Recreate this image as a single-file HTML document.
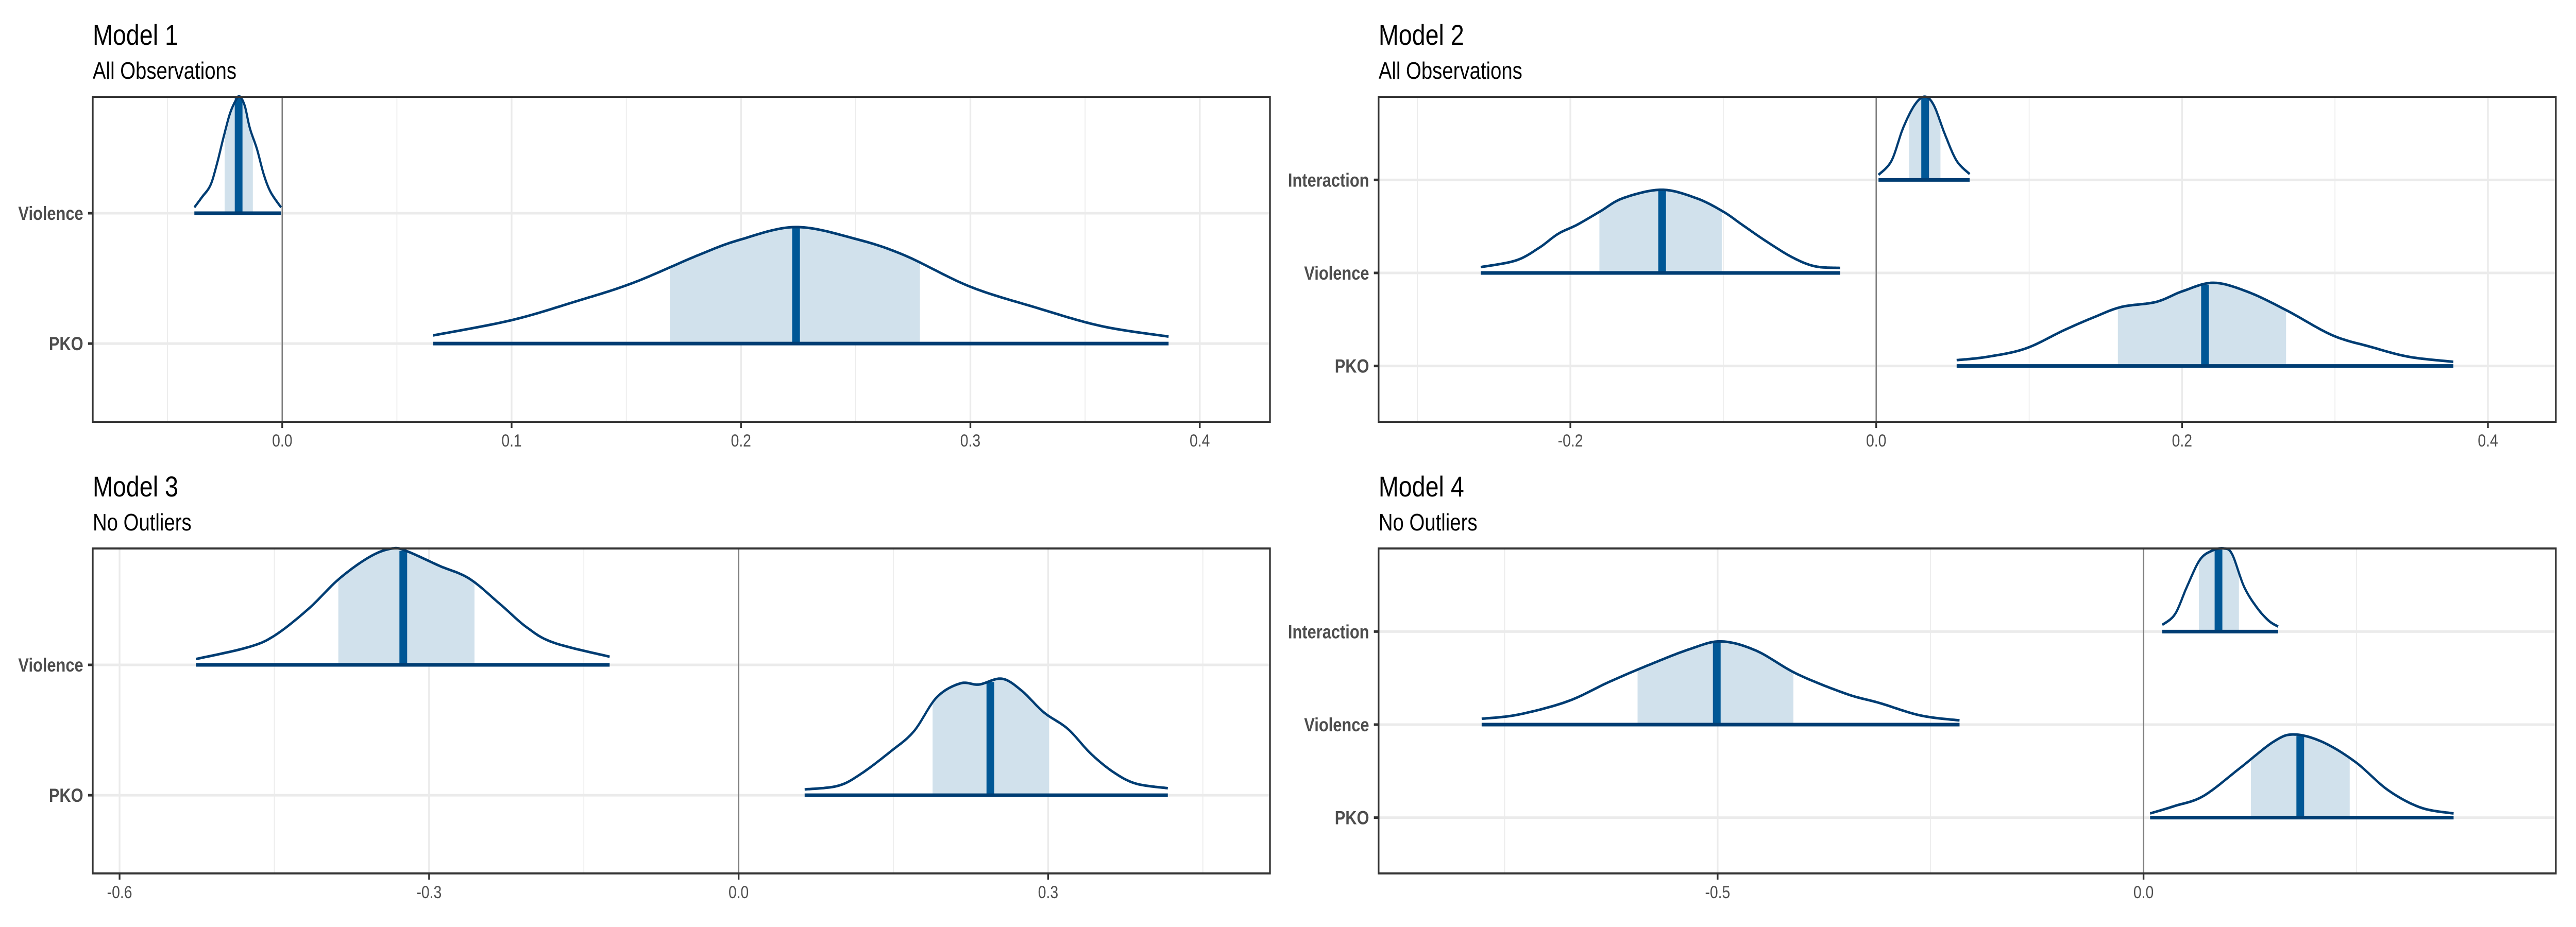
<!DOCTYPE html>
<html><head><meta charset="utf-8">
<style>
html,body{margin:0;padding:0;background:#fff;width:100%;height:100%;overflow:hidden;}
svg{display:block;width:100vw;height:100vh;}
text{font-family:"Liberation Sans",Arial,sans-serif;}
</style></head>
<body>
<svg id="chart" xmlns="http://www.w3.org/2000/svg" viewBox="0 0 6000 1800" preserveAspectRatio="none">
<rect width="6000" height="1800" fill="#fff"/>
</svg>
<script>
// ---------- Model 1 data ----------
const m1Terms = ["Violence", "PKO"];
const m1ViolenceX = [-0.0383,-0.0349,-0.0313,-0.0285,-0.0256,-0.0227,-0.0199,-0.0184,-0.0163,-0.0141,-0.011,-0.008,-0.005,-0.0005];
const m1ViolenceH = [0.05,0.14,0.24,0.42,0.65,0.86,0.98,1.0,0.92,0.73,0.55,0.33,0.18,0.05];
const m1ViolenceStats = [-0.0251,-0.019,-0.0128];
const m1PkoX = [0.0658,0.0998,0.1277,0.1528,0.1815,0.1994,0.2238,0.2496,0.271,0.2997,0.3284,0.3571,0.3864];
const m1PkoH = [0.07,0.2,0.36,0.52,0.76,0.89,1.0,0.9,0.76,0.49,0.31,0.15,0.06];
const m1PkoStats = [0.169,0.224,0.278];
const m1Ticks = ["0.0","0.1","0.2","0.3","0.4"];
const m1TickVals = [0,0.1,0.2,0.3,0.4];

// ---------- Model 2 data ----------
const m2Terms = ["Interaction", "Violence", "PKO"];
const m2InterX = [0.0015,0.0100,0.0175,0.0251,0.0316,0.0376,0.0451,0.0526,0.0611];
const m2InterH = [0.06,0.23,0.62,0.9,1.0,0.9,0.54,0.23,0.07];
const m2InterStats = [0.0215,0.032,0.042];
const m2ViolenceX = [-0.2586,-0.2356,-0.2206,-0.2080,-0.1955,-0.1805,-0.1654,-0.1404,-0.1178,-0.1003,-0.0877,-0.0727,-0.0551,-0.0401,-0.0236];
const m2ViolenceH = [0.07,0.15,0.3,0.47,0.58,0.74,0.9,1.0,0.9,0.74,0.58,0.39,0.19,0.08,0.06];
const m2ViolenceStats = [-0.181,-0.140,-0.101];
const m2PkoX = [0.0526,0.0727,0.0977,0.1228,0.1429,0.1604,0.1830,0.2005,0.2206,0.2431,0.2682,0.2982,0.3233,0.3484,0.3774];
const m2PkoH = [0.07,0.11,0.21,0.43,0.59,0.71,0.77,0.9,1.0,0.89,0.67,0.37,0.23,0.11,0.05];
const m2PkoStats = [0.158,0.215,0.268];
const m2Ticks = ["-0.2","0.0","0.2","0.4"];
const m2TickVals = [-0.2,0,0.2,0.4];

// ---------- Model 3 data ----------
const m3Terms = ["Violence", "PKO"];
const m3ViolenceX = [-0.526,-0.476,-0.450,-0.417,-0.387,-0.357,-0.335,-0.320,-0.290,-0.261,-0.231,-0.205,-0.179,-0.125];
const m3ViolenceH = [0.05,0.15,0.25,0.48,0.74,0.93,1.0,0.97,0.85,0.74,0.52,0.32,0.19,0.07];
const m3ViolenceStats = [-0.388,-0.325,-0.256];
const m3PkoX = [0.064,0.096,0.118,0.148,0.170,0.192,0.215,0.233,0.255,0.274,0.296,0.319,0.341,0.363,0.385,0.416];
const m3PkoH = [0.05,0.08,0.18,0.38,0.55,0.84,0.96,0.95,1.0,0.90,0.71,0.57,0.36,0.2,0.10,0.06];
const m3PkoStats = [0.188,0.244,0.301];
const m3Ticks = ["-0.6","-0.3","0.0","0.3"];
const m3TickVals = [-0.6,-0.3,0,0.3];

// ---------- Model 4 data ----------
const m4Terms = ["Interaction", "Violence", "PKO"];
const m4InterX = [0.022,0.037,0.051,0.066,0.080,0.094,0.104,0.118,0.133,0.147,0.158];
const m4InterH = [0.08,0.21,0.54,0.86,0.97,1.0,0.93,0.54,0.29,0.13,0.06];
const m4InterStats = [0.065,0.088,0.112];
const m4ViolenceX = [-0.777,-0.734,-0.676,-0.628,-0.580,-0.532,-0.496,-0.455,-0.407,-0.349,-0.310,-0.262,-0.216];
const m4ViolenceH = [0.07,0.12,0.28,0.51,0.72,0.91,1.0,0.89,0.61,0.37,0.26,0.11,0.05];
const m4ViolenceStats = [-0.594,-0.501,-0.411];
const m4PkoX = [0.0077,0.0366,0.0703,0.1137,0.1522,0.1763,0.2100,0.2486,0.2871,0.3256,0.364];
const m4PkoH = [0.05,0.14,0.26,0.6,0.91,1.0,0.91,0.67,0.33,0.12,0.05];
const m4PkoStats = [0.126,0.184,0.242];
const m4Ticks = ["-0.5","0.0"];
const m4TickVals = [-0.5,0];

// ---------- layout (positions, not data) ----------
const NS = "http://www.w3.org/2000/svg";
const svg = document.getElementById("chart");
function mk(tag, attrs, parent){
  const e = document.createElementNS(NS, tag);
  for (const k in attrs) e.setAttribute(k, attrs[k]);
  (parent||svg).appendChild(e);
  return e;
}

const panels = [
  {id:"model-1", title:"Model 1", sub:"All Observations", x0:216, x1:2958, y0:188, y1:819, dom:[-0.0826,0.4306],
   terms:m1Terms, ridges:[[m1ViolenceX,m1ViolenceH,m1ViolenceStats],[m1PkoX,m1PkoH,m1PkoStats]],
   ticks:m1Ticks, tickVals:m1TickVals, minor:[-0.05,0.05,0.15,0.25,0.35]},
  {id:"model-2", title:"Model 2", sub:"All Observations", x0:3211, x1:5953, y0:188, y1:819, dom:[-0.3254,0.4444],
   terms:m2Terms, ridges:[[m2InterX,m2InterH,m2InterStats],[m2ViolenceX,m2ViolenceH,m2ViolenceStats],[m2PkoX,m2PkoH,m2PkoStats]],
   ticks:m2Ticks, tickVals:m2TickVals, minor:[-0.3,-0.1,0.1,0.3]},
  {id:"model-3", title:"Model 3", sub:"No Outliers", x0:216, x1:2958, y0:1065, y1:1696, dom:[-0.626,0.515],
   terms:m3Terms, ridges:[[m3ViolenceX,m3ViolenceH,m3ViolenceStats],[m3PkoX,m3PkoH,m3PkoStats]],
   ticks:m3Ticks, tickVals:m3TickVals, minor:[-0.45,-0.15,0.15,0.45]},
  {id:"model-4", title:"Model 4", sub:"No Outliers", x0:3211, x1:5953, y0:1065, y1:1696, dom:[-0.898,0.484],
   terms:m4Terms, ridges:[[m4InterX,m4InterH,m4InterStats],[m4ViolenceX,m4ViolenceH,m4ViolenceStats],[m4PkoX,m4PkoH,m4PkoStats]],
   ticks:m4Ticks, tickVals:m4TickVals, minor:[-0.75,-0.25,0.25]}
];

function densePts(pts){
  const out=[];
  for(let i=0;i<pts.length-1;i++){
    const p0=pts[Math.max(0,i-1)], p1=pts[i], p2=pts[i+1], p3=pts[Math.min(pts.length-1,i+2)];
    const c1=[p1[0]+(p2[0]-p0[0])/6, p1[1]+(p2[1]-p0[1])/6];
    const c2=[p2[0]-(p3[0]-p1[0])/6, p2[1]-(p3[1]-p1[1])/6];
    for(let k=0;k<20;k++){
      const t=k/20, u=1-t;
      out.push([u*u*u*p1[0]+3*u*u*t*c1[0]+3*u*t*t*c2[0]+t*t*t*p2[0],
                u*u*u*p1[1]+3*u*u*t*c1[1]+3*u*t*t*c2[1]+t*t*t*p2[1]]);
    }
  }
  out.push(pts[pts.length-1]);
  return out;
}
function yAt(dense, x){
  for(let i=0;i<dense.length-1;i++){
    const a=dense[i], b=dense[i+1];
    if((x>=a[0]&&x<=b[0])){ const t=(b[0]===a[0])?0:(x-a[0])/(b[0]-a[0]); return a[1]+t*(b[1]-a[1]); }
  }
  return dense[dense.length-1][1];
}

panels.forEach(p=>{
  const g = mk("g", {});
  
  
  const sx = v => p.x0 + (v - p.dom[0]) / (p.dom[1]-p.dom[0]) * (p.x1 - p.x0);
  const n = p.terms.length;
  const H = p.y1 - p.y0;
  const s = H / (n - 1 + 0.6 + 0.893);
  const rowY = i => p.y1 - 0.6*s - (n-1-i)*s;
  const peak = 0.894 * s;

  const t1 = mk("text", {x:p.x0, y:p.y0-101, "font-size":56, fill:"#000"}, g);
  t1.textContent = p.title;
  
  
  const t2 = mk("text", {x:p.x0, y:p.y0-35, "font-size":46, fill:"#000"}, g);
  t2.textContent = p.sub;
  
  

  p.minor.forEach(v=>{
    const l = mk("line", {x1:sx(v), x2:sx(v), y1:p.y0, y2:p.y1, stroke:"#ebebeb", "stroke-width":2}, g);
    
    
  });
  p.tickVals.forEach(v=>{
    const l = mk("line", {x1:sx(v), x2:sx(v), y1:p.y0, y2:p.y1, stroke:"#ebebeb", "stroke-width":4}, g);
    
    
  });
  p.terms.forEach((t,i)=>{
    const l = mk("line", {x1:p.x0, x2:p.x1, y1:rowY(i), y2:rowY(i), stroke:"#ebebeb", "stroke-width":5}, g);
    
    
  });
  const z = mk("line", {x1:sx(0), x2:sx(0), y1:p.y0, y2:p.y1, stroke:"#7f7f7f", "stroke-width":3}, g);
  
  

  p.ridges.forEach((r,i)=>{
    const [xs, hs, st] = r;
    const by = rowY(i);
    const pts = xs.map((v,k)=>[sx(v), by - hs[k]*peak]);
    const dense = densePts(pts);
    const rg = mk("g", {}, g);
    
    
    const lo = sx(st[0]), md = sx(st[1]), hi = sx(st[2]);
    const inside = dense.filter(q=>q[0]>lo && q[0]<hi);
    const fillPts = [[lo,by],[lo,yAt(dense,lo)]].concat(inside).concat([[hi,yAt(dense,hi)],[hi,by]]);
    const f = mk("polygon", {points: fillPts.map(q=>q[0].toFixed(1)+","+q[1].toFixed(1)).join(" "), fill:"#d1e1ec"}, rg);
    
    
    const m = mk("line", {x1:md, x2:md, y1:by, y2:yAt(dense,md)+2, stroke:"#005796", "stroke-width":18}, rg);
    
    
    const c = mk("polyline", {points: dense.map(q=>q[0].toFixed(1)+","+q[1].toFixed(1)).join(" "), fill:"none", stroke:"#003d73", "stroke-width":5, "stroke-linejoin":"round"}, rg);
    
    
    const b = mk("line", {x1:pts[0][0], x2:pts[pts.length-1][0], y1:by, y2:by, stroke:"#003d73", "stroke-width":7}, rg);
    
    
  });

  const br = mk("rect", {x:p.x0, y:p.y0, width:p.x1-p.x0, height:H, fill:"none", stroke:"#333", "stroke-width":4}, g);
  
  

  p.terms.forEach((t,i)=>{
    const tk = mk("line", {x1:p.x0-11, x2:p.x0, y1:rowY(i), y2:rowY(i), stroke:"#333", "stroke-width":5}, g);
    
    
    const lb = mk("text", {x:p.x0-22, y:rowY(i)+13, "font-size":37, "font-weight":"bold", fill:"#4d4d4d", "text-anchor":"end"}, g);
    lb.textContent = t;
    
    
  });
  p.tickVals.forEach((v,k)=>{
    const tk = mk("line", {x1:sx(v), x2:sx(v), y1:p.y1, y2:p.y1+12, stroke:"#333", "stroke-width":4}, g);
    
    
    const lb = mk("text", {x:sx(v), y:p.y1+48, "font-size":34, fill:"#4d4d4d", "text-anchor":"middle"}, g);
    lb.textContent = p.ticks[k];
    
    
  });
});
</script>
</body></html>
